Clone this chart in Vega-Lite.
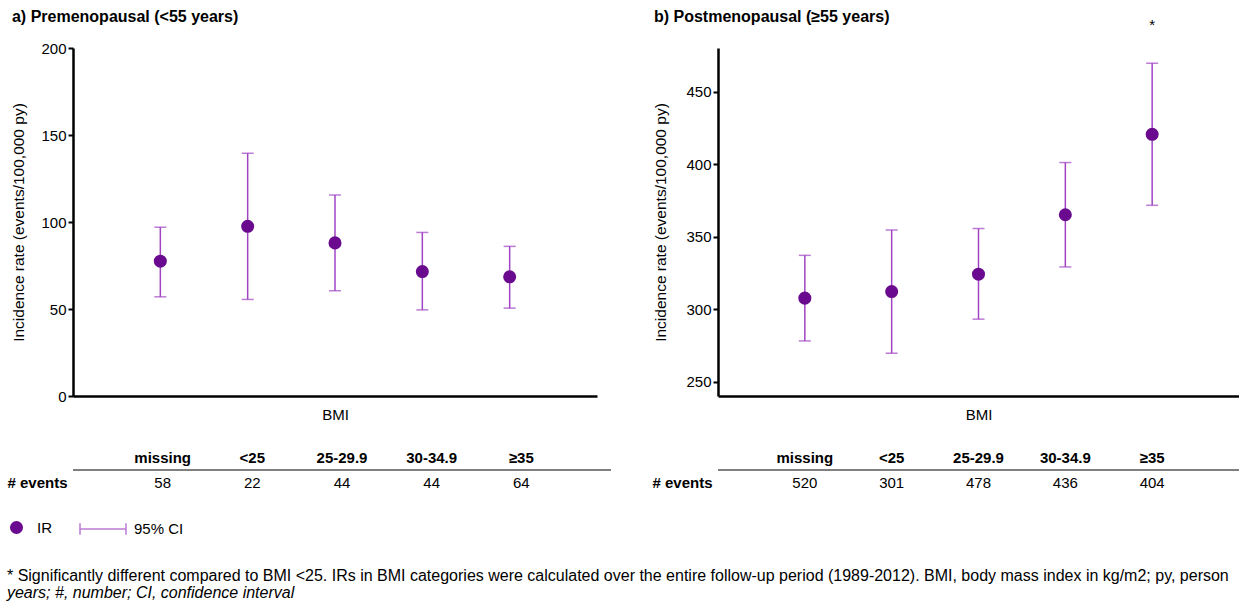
{
  "$schema": "https://vega.github.io/schema/vega-lite/v6.json",
  "background": "white",
  "padding": {"left": 6, "top": 9, "right": 0, "bottom": 0},
  "config": {
    "font": "Liberation Sans",
    "view": {"stroke": null},
    "axis": {"labelColor": "black", "titleColor": "black", "labelFontSize": 15, "titleFontSize": 15, "titleFontWeight": "normal", "grid": false, "domainColor": "black", "tickColor": "black"},
    "title": {"color": "black"},
    "legend": {"labelColor": "black", "labelFontSize": 15}
  },
  "datasets": {
    "pre": [
      {"bmi": "missing", "ir": 77.5, "lo": 57, "hi": 97, "events": 58},
      {"bmi": "<25", "ir": 97.5, "lo": 55.5, "hi": 139.5, "events": 22},
      {"bmi": "25-29.9", "ir": 88, "lo": 60.5, "hi": 115.5, "events": 44},
      {"bmi": "30-34.9", "ir": 71.5, "lo": 49.5, "hi": 94, "events": 44},
      {"bmi": "≥35", "ir": 68.5, "lo": 50.5, "hi": 86, "events": 64}
    ],
    "post": [
      {"bmi": "missing", "ir": 307.5, "lo": 278, "hi": 337, "events": 520},
      {"bmi": "<25", "ir": 312, "lo": 269.5, "hi": 354.5, "events": 301},
      {"bmi": "25-29.9", "ir": 324, "lo": 293, "hi": 355.5, "events": 478},
      {"bmi": "30-34.9", "ir": 365, "lo": 329, "hi": 401, "events": 436},
      {"bmi": "≥35", "ir": 420.5, "lo": 371.5, "hi": 469.5, "events": 404, "sig": "*"}
    ]
  },
  "title": {
    "text": "* Significantly different compared to BMI <25. IRs in BMI categories were calculated over the entire follow-up period (1989-2012). BMI, body mass index in kg/m2; py, person",
    "subtitle": "years; #, number; CI, confidence interval",
    "orient": "bottom", "anchor": "start", "frame": "bounds",
    "font": "Liberation Sans", "fontSize": 16, "fontWeight": "normal", "color": "black",
    "subtitleFont": "Liberation Sans", "subtitleFontSize": 16, "subtitleFontStyle": "italic", "subtitleColor": "black", "subtitlePadding": 1,
    "offset": 30
  },
  "spacing": 39,
  "resolve": {"scale": {"x": "independent", "y": "independent"}},
  "hconcat": [
    {
      "spacing": 23,
      "resolve": {"scale": {"x": "independent", "y": "independent"}},
      "vconcat": [
        {
          "title": {"text": "a) Premenopausal (<55 years)", "anchor": "start", "frame": "bounds", "fontSize": 16, "fontWeight": "bold", "offset": 16},
          "width": 524, "height": 348,
          "data": {"name": "pre"},
          "layer": [
            {
              "mark": {"type": "errorbar", "ticks": {"size": 12, "thickness": 1.5}, "rule": {"strokeWidth": 1.5}},
              "encoding": {
                "x": {"field": "bmi", "type": "nominal", "title": "BMI", "scale": {"type": "point", "domain": ["missing", "<25", "25-29.9", "30-34.9", "≥35"], "padding": 1}, "axis": {"labels": false, "ticks": false, "domainWidth": 2.5, "titlePadding": 11}},
                "y": {"field": "lo", "type": "quantitative", "title": "Incidence rate (events/100,000 py)", "scale": {"domain": [0, 200]}, "axis": {"values": [0, 50, 100, 150, 200], "tickSize": 5, "tickWidth": 2, "domainWidth": 2.5, "labelPadding": 2, "titlePadding": 14, "titleFontSize": 15.5}},
                "y2": {"field": "hi"},
                "color": {"datum": "95% CI", "type": "nominal", "scale": {"range": ["#a044c4"]}, "legend": {"orient": "none", "legendX": 6, "legendY": 457, "title": null, "symbolType": "M-1,0H1M-1,-0.25V0.25M1,-0.25V0.25", "symbolSize": 2116, "symbolStrokeWidth": 1.5, "labelOffset": 7, "labelFontSize": 15}}
              }
            },
            {
              "mark": {"type": "point", "filled": true, "size": 170, "opacity": 1},
              "encoding": {
                "x": {"field": "bmi", "type": "nominal", "title": "BMI"},
                "y": {"field": "ir", "type": "quantitative", "title": "Incidence rate (events/100,000 py)"},
                "fill": {"datum": "IR", "type": "nominal", "scale": {"range": ["#6a0a8e"]}, "legend": {"orient": "none", "legendX": -64, "legendY": 472, "title": null, "symbolType": "circle", "symbolSize": 170, "labelOffset": 13, "labelFontSize": 15}}
              }
            }
          ]
        },
        {
          "width": 538, "height": 50,
          "data": {"name": "pre"},
          "layer": [
            {
              "mark": {"type": "rule", "color": "#808080", "strokeWidth": 2},
              "encoding": {"y": {"datum": "# events", "type": "nominal", "bandPosition": 0}}
            },
            {
              "mark": {"type": "text", "fontWeight": "bold", "fontSize": 15},
              "encoding": {
                "x": {"field": "bmi", "type": "nominal", "scale": {"type": "point", "domain": ["missing", "<25", "25-29.9", "30-34.9", "≥35"], "padding": 1.06}, "axis": null},
                "y": {"datum": "BMI", "type": "nominal", "scale": {"type": "band", "domain": ["BMI", "# events"], "paddingInner": 0, "paddingOuter": 0}, "axis": {"title": null, "domain": false, "ticks": false, "labelFontWeight": "bold", "labelPadding": 6, "labelExpr": "datum.value == '# events' ? datum.value : ''"}},
                "text": {"field": "bmi"}
              }
            },
            {
              "mark": {"type": "text", "fontSize": 15},
              "encoding": {
                "x": {"field": "bmi", "type": "nominal"},
                "y": {"datum": "# events", "type": "nominal"},
                "text": {"field": "events"}
              }
            }
          ]
        }
      ]
    },
    {
      "spacing": 23,
      "resolve": {"scale": {"x": "independent", "y": "independent"}},
      "vconcat": [
        {
          "title": {"text": "b) Postmenopausal (≥55 years)", "anchor": "start", "frame": "bounds", "fontSize": 16, "fontWeight": "bold", "offset": -7},
          "width": 521, "height": 348,
          "data": {"name": "post"},
          "layer": [
            {
              "mark": {"type": "errorbar", "ticks": {"size": 12, "thickness": 1.5}, "rule": {"strokeWidth": 1.5}, "color": "#a044c4"},
              "encoding": {
                "x": {"field": "bmi", "type": "nominal", "title": "BMI", "scale": {"type": "point", "domain": ["missing", "<25", "25-29.9", "30-34.9", "≥35"], "padding": 1}, "axis": {"labels": false, "ticks": false, "domainWidth": 2.5, "titlePadding": 11}},
                "y": {"field": "lo", "type": "quantitative", "title": "Incidence rate (events/100,000 py)", "scale": {"domain": [250, 475]}, "axis": {"values": [250, 300, 350, 400, 450], "tickSize": 5, "tickWidth": 2, "domainWidth": 2.5, "labelPadding": 2, "titlePadding": 17, "titleFontSize": 15.5}},
                "y2": {"field": "hi"}
              }
            },
            {
              "mark": {"type": "point", "filled": true, "size": 170, "opacity": 1, "color": "#6a0a8e"},
              "encoding": {
                "x": {"field": "bmi", "type": "nominal", "title": "BMI"},
                "y": {"field": "ir", "type": "quantitative", "title": "Incidence rate (events/100,000 py)"}
              }
            },
            {
              "transform": [{"filter": "isValid(datum.sig)"}],
              "mark": {"type": "text", "fontSize": 15, "baseline": "alphabetic", "dy": -33, "color": "black"},
              "encoding": {
                "x": {"field": "bmi", "type": "nominal"},
                "y": {"field": "hi", "type": "quantitative"},
                "text": {"field": "sig"}
              }
            }
          ]
        },
        {
          "width": 521, "height": 50,
          "data": {"name": "post"},
          "layer": [
            {
              "mark": {"type": "rule", "color": "#808080", "strokeWidth": 2},
              "encoding": {"y": {"datum": "# events", "type": "nominal", "bandPosition": 0}}
            },
            {
              "mark": {"type": "text", "fontWeight": "bold", "fontSize": 15},
              "encoding": {
                "x": {"field": "bmi", "type": "nominal", "scale": {"type": "point", "domain": ["missing", "<25", "25-29.9", "30-34.9", "≥35"], "padding": 1}, "axis": null},
                "y": {"datum": "BMI", "type": "nominal", "scale": {"type": "band", "domain": ["BMI", "# events"], "paddingInner": 0, "paddingOuter": 0}, "axis": {"title": null, "domain": false, "ticks": false, "labelFontWeight": "bold", "labelPadding": 6, "labelExpr": "datum.value == '# events' ? datum.value : ''"}},
                "text": {"field": "bmi"}
              }
            },
            {
              "mark": {"type": "text", "fontSize": 15},
              "encoding": {
                "x": {"field": "bmi", "type": "nominal"},
                "y": {"datum": "# events", "type": "nominal"},
                "text": {"field": "events"}
              }
            }
          ]
        }
      ]
    }
  ]
}
